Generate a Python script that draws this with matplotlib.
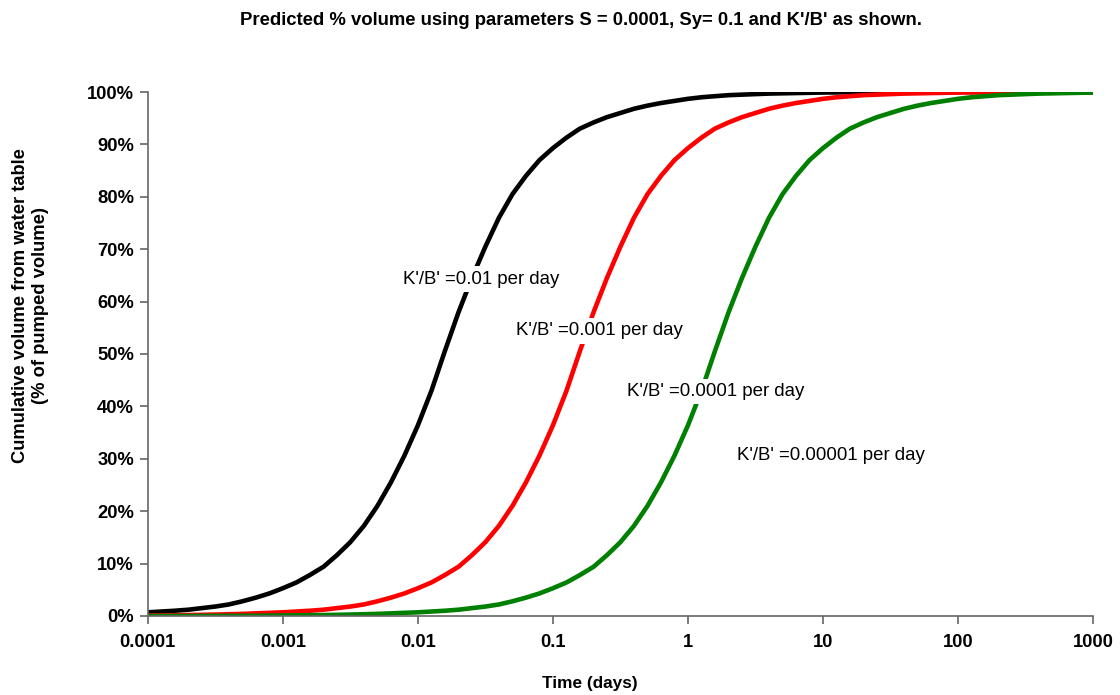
import matplotlib
matplotlib.use("Agg")
import matplotlib.pyplot as plt
from matplotlib.ticker import FixedLocator, FuncFormatter, NullLocator

plt.rcParams['font.family'] = ['Liberation Sans', 'DejaVu Sans']

# time (days), ten points per decade
time_days = [
    0.0001, 0.000126, 0.000158, 0.0002, 0.000251, 0.000316, 0.000398, 0.000501, 0.000631, 0.000794,
    0.001, 0.00126, 0.00158, 0.002, 0.00251, 0.00316, 0.00398, 0.00501, 0.00631, 0.00794,
    0.01, 0.0126, 0.0158, 0.02, 0.0251, 0.0316, 0.0398, 0.0501, 0.0631, 0.0794,
    0.1, 0.126, 0.158, 0.2, 0.251, 0.316, 0.398, 0.501, 0.631, 0.794,
    1, 1.26, 1.58, 2, 2.51, 3.16, 3.98, 5.01, 6.31, 7.94,
    10, 12.6, 15.8, 20, 25.1, 31.6, 39.8, 50.1, 63.1, 79.4,
    100, 126, 158, 200, 251, 316, 398, 501, 631, 794,
    1000]

# cumulative volume from water table (% of pumped volume)
vol_001 = [
    0.7, 0.85, 1.0, 1.2, 1.5, 1.8, 2.2, 2.8, 3.5, 4.3,
    5.3, 6.4, 7.8, 9.4, 11.6, 14.1, 17.2, 21.0, 25.5, 30.6,
    36.4, 43.0, 50.5, 58.0, 64.5, 70.5, 76.0, 80.5, 84.0, 87.0,
    89.3, 91.3, 93.0, 94.2, 95.2, 96.0, 96.8, 97.4, 97.9, 98.3,
    98.7, 99.0, 99.2, 99.4, 99.5, 99.6, 99.7, 99.75, 99.8, 99.85,
    99.9, 99.92, 99.94, 99.95, 99.96, 99.97, 99.98, 99.98, 99.99, 99.99,
    100, 100, 100, 100, 100, 100, 100, 100, 100, 100,
    100]
vol_0001 = [
    0.1, 0.12, 0.15, 0.18, 0.22, 0.27, 0.33, 0.4, 0.5, 0.6,
    0.7, 0.85, 1.0, 1.2, 1.5, 1.8, 2.2, 2.8, 3.5, 4.3,
    5.3, 6.4, 7.8, 9.4, 11.6, 14.1, 17.2, 21.0, 25.5, 30.6,
    36.4, 43.0, 50.5, 58.0, 64.5, 70.5, 76.0, 80.5, 84.0, 87.0,
    89.3, 91.3, 93.0, 94.2, 95.2, 96.0, 96.8, 97.4, 97.9, 98.3,
    98.7, 99.0, 99.2, 99.4, 99.5, 99.6, 99.7, 99.75, 99.8, 99.85,
    99.9, 99.92, 99.94, 99.95, 99.96, 99.97, 99.98, 99.98, 99.99, 99.99,
    100]
vol_00001 = [
    0.0, 0.0, 0.01, 0.01, 0.02, 0.02, 0.03, 0.04, 0.05, 0.07,
    0.1, 0.12, 0.15, 0.18, 0.22, 0.27, 0.33, 0.4, 0.5, 0.6,
    0.7, 0.85, 1.0, 1.2, 1.5, 1.8, 2.2, 2.8, 3.5, 4.3,
    5.3, 6.4, 7.8, 9.4, 11.6, 14.1, 17.2, 21.0, 25.5, 30.6,
    36.4, 43.0, 50.5, 58.0, 64.5, 70.5, 76.0, 80.5, 84.0, 87.0,
    89.3, 91.3, 93.0, 94.2, 95.2, 96.0, 96.8, 97.4, 97.9, 98.3,
    98.7, 99.0, 99.2, 99.4, 99.5, 99.6, 99.7, 99.75, 99.8, 99.85,
    99.9]

x_ticks = [1e-4, 1e-3, 1e-2, 0.1, 1, 10, 100, 1000]
x_tick_labels = ['0.0001', '0.001', '0.01', '0.1', '1', '10', '100', '1000']

labels = ["K'/B' =0.01 per day", "K'/B' =0.001 per day",
          "K'/B' =0.0001 per day", "K'/B' =0.00001 per day"]
label_x = [0.00774, 0.0532, 0.353, 2.31]
label_y = [64.3, 54.4, 42.9, 30.7]

fig = plt.figure(figsize=(11.2, 6.95), dpi=100)
ax = fig.add_axes([0.132, 0.1137, 0.844, 0.7539])

ax.plot(time_days, vol_001, color='black', lw=3.3)
ax.plot(time_days, vol_0001, color='#ff0000', lw=3.3)
ax.plot(time_days, vol_00001, color='#008000', lw=3.3)

ax.set_xscale('log')
ax.set_xlim(1e-4, 1000)
ax.set_ylim(0, 100)
ax.xaxis.set_major_locator(FixedLocator(x_ticks))
ax.xaxis.set_minor_locator(NullLocator())
ax.set_xticklabels(x_tick_labels)
ax.set_yticks(range(0, 101, 10))
ax.yaxis.set_major_formatter(FuncFormatter(lambda v, p: f'{int(v)}%'))

for s in ['top', 'right']:
    ax.spines[s].set_visible(False)
for s in ['left', 'bottom']:
    ax.spines[s].set_color('#666666')
    ax.spines[s].set_linewidth(1.2)
ax.tick_params(axis='both', direction='out', length=6, width=1.2, color='#666666')
ax.tick_params(axis='x', pad=7, labelsize=13.2)
ax.tick_params(axis='y', pad=4, labelsize=13.2)
for t in ax.get_xticklabels() + ax.get_yticklabels():
    t.set_fontweight('bold')

for txt, lx, ly in zip(labels, label_x, label_y):
    ax.text(lx, ly, txt, fontsize=13.4, va='center', ha='left',
            bbox=dict(facecolor='white', edgecolor='none', pad=3))

fig.text(0.519, 0.971, "Predicted % volume using parameters S = 0.0001, Sy= 0.1 and K'/B' as shown.",
         ha='center', va='center', fontsize=13.3, fontweight='bold')
fig.text(0.527, 0.017, 'Time (days)', ha='center', va='center', fontsize=12.4, fontweight='bold')
fig.text(0.027, 0.56, 'Cumulative volume from water table\n(% of pumped volume)',
         ha='center', va='center', rotation=90, fontsize=13.2, fontweight='bold',
         linespacing=1.2)

fig.savefig('out.png', dpi=100)
